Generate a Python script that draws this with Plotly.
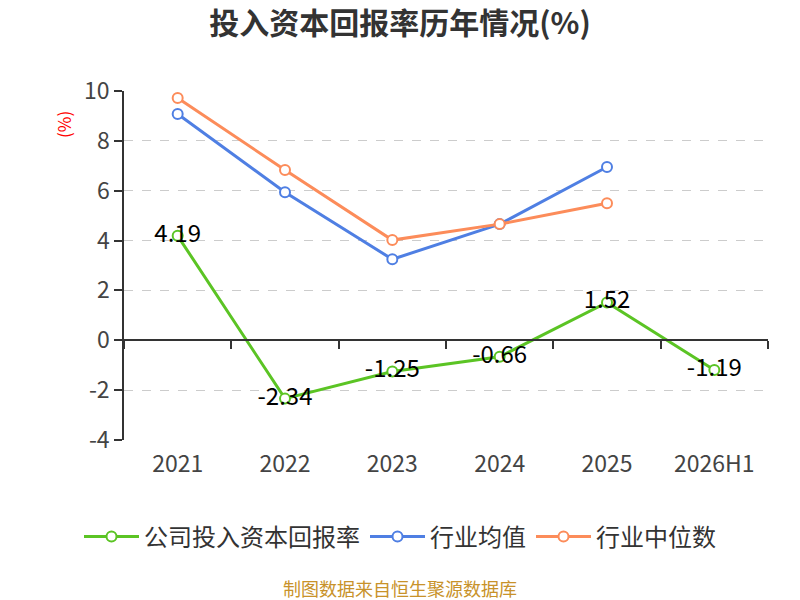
import plotly.graph_objects as go

# 연도 및 시리즈 값
years = ["2021", "2022", "2023", "2024", "2025", "2026H1"]
company_roic = [4.19, -2.34, -1.25, -0.66, 1.52, -1.19]
industry_avg = [9.08, 5.94, 3.25, 4.66, 6.95, None]
industry_median = [9.72, 6.83, 4.02, 4.66, 5.50, None]
company_labels = ["4.19", "-2.34", "-1.25", "-0.66", "1.52", "-1.19"]

y_ticks = [-4, -2, 0, 2, 4, 6, 8, 10]
y_tick_labels = ["-4", "-2", "0", "2", "4", "6", "8", "10"]

FONT = "Noto Sans CJK SC"
GREEN = "#5bc424"
BLUE = "#4f7fe3"
ORANGE = "#fc8c5a"

fig = go.Figure()

def add_series(name, values, color, text=None):
    fig.add_trace(go.Scatter(
        x=years, y=values, name=name,
        mode="lines+markers+text" if text else "lines+markers",
        text=text, textposition="middle center",
        textfont=dict(size=24, color="#000", family=FONT),
        line=dict(color=color, width=3),
        marker=dict(symbol="circle", size=10, color="white",
                    line=dict(color=color, width=2)),
        connectgaps=False,
        cliponaxis=False,
    ))

add_series("公司投入资本回报率", company_roic, GREEN, company_labels)
add_series("行业均值", industry_avg, BLUE)
add_series("行业中位数", industry_median, ORANGE)

# y=0 위치의 x축(눈금선용) - 빈 트레이스로 축만 생성
fig.add_trace(go.Scatter(x=[], y=[], xaxis="x2", yaxis="y", showlegend=False,
                         hoverinfo="skip"))

fig.update_layout(
    width=800, height=600,
    margin=dict(l=124, r=32, t=91, b=160),
    plot_bgcolor="white", paper_bgcolor="white",
    font=dict(family=FONT, color="#444"),
    title=dict(text="<b>投入资本回报率历年情况(%)</b>", x=0.5, xanchor="center",
               y=1 - 23 / 600, yanchor="middle", yref="container",
               font=dict(size=30, color="#333", family=FONT)),
    showlegend=True,
    legend=dict(orientation="h", xref="container", x=0.5, xanchor="center",
                yref="container", y=1 - 537 / 600, yanchor="middle",
                font=dict(size=24, color="#333", family=FONT),
                itemwidth=55, traceorder="normal"),
    xaxis=dict(type="category", categoryarray=years, showgrid=False, showline=False,
               zeroline=False, ticks="", ticklabelstandoff=8,
               tickfont=dict(size=23, color="#444"), range=[-0.5, 5.5]),
    xaxis2=dict(overlaying="x", anchor="free", position=4 / 14, type="linear",
                range=[-0.5, 5.5], tickvals=[-0.5, 0.5, 1.5, 2.5, 3.5, 4.5, 5.5],
                showticklabels=False, showgrid=False, zeroline=False,
                showline=True, linecolor="#333", linewidth=1.5,
                ticks="outside", ticklen=8, tickcolor="#333", tickwidth=1.5),
    yaxis=dict(range=[-4, 10], tickvals=y_ticks, ticktext=y_tick_labels,
               showgrid=True, gridcolor="#cccccc",
               griddash="dash", gridwidth=1, zeroline=False,
               showline=True, linecolor="#333", linewidth=1.5,
               ticks="outside", ticklen=8, tickcolor="#333", tickwidth=1.5,
               tickfont=dict(size=23, color="#444")),
)

fig.add_annotation(text="(%)", textangle=-90, x=-61 / 644, xref="paper",
                   y=1 - 34 / 349, yref="paper", xanchor="center", yanchor="middle",
                   showarrow=False, font=dict(size=17, color="red", family=FONT))

fig.add_annotation(text="制图数据来自恒生聚源数据库", x=276 / 644, xref="paper",
                   y=-148 / 349, yref="paper", xanchor="center", yanchor="middle",
                   showarrow=False, font=dict(size=18, color="#c8922a", family=FONT))

fig.write_html("out.html", config={"displayModeBar": False},
               post_script="document.body.style.margin='0';")
